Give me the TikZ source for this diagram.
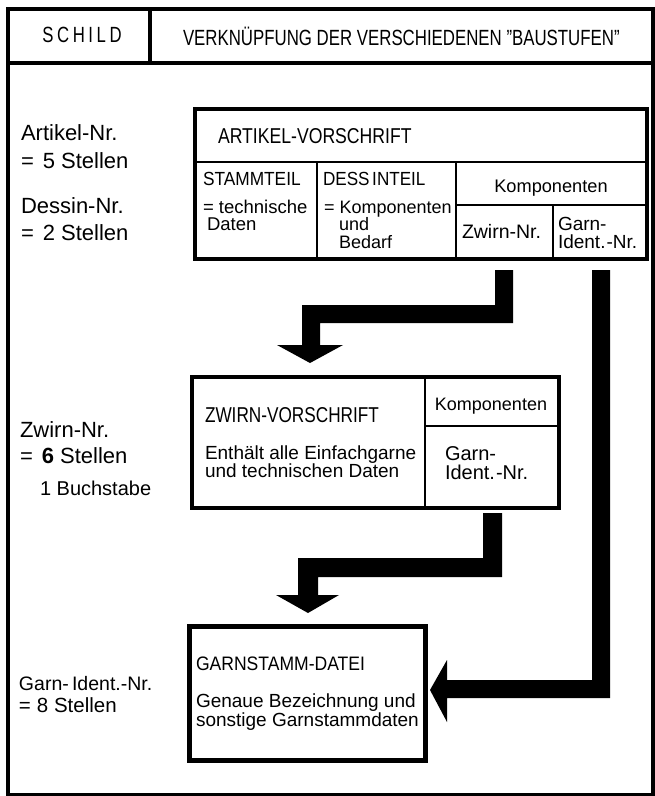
\documentclass[tikz,border=0pt]{standalone}
\usepackage{fontspec}
\setmainfont{Liberation Sans}
\usepackage{graphicx}
\newcommand{\fsz}[1]{\fontsize{#1}{#1}\selectfont}
\newcommand{\fszb}[2]{\fontsize{#1}{#2}\selectfont}
\newcommand{\sx}[2]{\scalebox{#1}[1]{#2}}
\newcommand{\lines}[1]{\begin{tabular}[t]{@{}l@{}}#1\end{tabular}}
\begin{document}
\begin{tikzpicture}[x=1pt,y=-1pt,
  t/.style={anchor=base west, inner sep=0pt, outer sep=0pt},
  tc/.style={anchor=base, inner sep=0pt, outer sep=0pt},
  frameline/.style={line width=3.5pt},
  boxstyle/.style={draw, line width=4pt, anchor=north west, inner sep=0pt, fill=none},
  divline/.style={line width=2.6pt},
  bigarrow/.style={fill=black, draw=none}]
\useasboundingbox (0,0) rectangle (655,796);

% outer frame and header
\draw[frameline] (8,9) rectangle (653,795);
\draw[frameline] (8,63) -- (653,63);
\draw[frameline] (150,9) -- (150,63);
\node[tc, font=\fsz{22}] (schild) at (82,42) {\sx{0.76}{S\kern4.7pt C\kern4.7pt H\kern4.7pt I\kern4.7pt L\kern4.7pt D}};
\node[t, font=\fsz{22}] (title) at (183,45) {\sx{0.765}{VERKNÜPFUNG DER VERSCHIEDENEN "BAUSTUFEN"}};

% left labels
\node[t, font=\fsz{22}] (la1) at (21,140) {Artikel-Nr.};
\node[t, font=\fsz{22}] (la2) at (21,168) {=\kern9pt 5 Stellen};
\node[t, font=\fsz{22}] (la3) at (21,213) {Dessin-Nr.};
\node[t, font=\fsz{22}] (la4) at (21,240) {=\kern9pt 2 Stellen};
\node[t, font=\fsz{22}] (lz1) at (20,437) {Zwirn-Nr.};
\node[t, font=\fsz{22}] (lz2) at (20,463) {=\kern9pt\textbf{6} Stellen};
\node[t, font=\fsz{20}] (lz3) at (40,495) {1 Buchstabe};
\node[t, font=\fsz{19.5}] (lg1) at (19,690) {Garn-\,Ident.-Nr.};
\node[t, font=\fsz{20.5}] (lg2) at (19,712) {=\kern6pt 8 Stellen};

% ARTIKEL-VORSCHRIFT box
\node[boxstyle, minimum width=452pt, minimum height=150pt] (artikel) at (193,107) {};
\draw[divline] (193,162) -- (645,162);
\draw[divline] (317,162) -- (317,257);
\draw[divline] (456,162) -- (456,257);
\draw[divline] (456,205) -- (645,205);
\draw[divline] (553,205) -- (553,257);
\node[t, font=\fsz{21.5}] (atitle) at (218,143) {\sx{0.82}{ARTIKEL-VORSCHRIFT}};
\node[t, font=\fsz{19}] (stamm) at (203,185) {\sx{0.91}{STAMMTEIL}};
\node[t, font=\fszb{18.5}{15}] (stamm2) at (203,213) {\lines{= technische\\\hspace*{4pt}Daten}};
\node[t, font=\fsz{19}] (dessin) at (323,185) {\sx{0.9}{DESS\kern3pt INTEIL}};
\node[t, font=\fszb{18}{16.5}] (dessin2) at (324,213) {\lines{= Komponenten\\\hspace*{15pt}und\\\hspace*{15pt}Bedarf}};
\node[tc, font=\fsz{18.2}] (akomp) at (551,192) {Komponenten};
\node[t, font=\fsz{19.5}] (azwirn) at (462,238) {Zwirn-Nr.};
\node[t, font=\fszb{19}{17}] (agarn1) at (558,230) {\lines{Garn-\\Ident.\kern1pt-Nr.}};

% ZWIRN-VORSCHRIFT box
\node[boxstyle, minimum width=367pt, minimum height=131pt] (zwirn) at (190,375) {};
\draw[divline] (425,375) -- (425,506);
\draw[divline] (425,426) -- (557,426);
\node[t, font=\fsz{21.5}] (ztitle) at (205,422) {\sx{0.8}{ZWIRN-VORSCHRIFT}};
\node[t, font=\fszb{19}{17}] (ztext1) at (205,459) {\lines{Enthält alle Einfachgarne\\und technischen Daten}};
\node[tc, font=\fsz{18}] (zkomp) at (491,410) {Komponenten};
\node[t, font=\fszb{20}{18}] (zgarn1) at (445,460) {\lines{Garn-\\Ident.\kern1pt-Nr.}};

% GARNSTAMM-DATEI box
\node[boxstyle, line width=4.5pt, minimum width=236pt, minimum height=134pt] (garn) at (187,624) {};
\node[t, font=\fsz{19.5}] (gtitle) at (196,670) {\sx{0.9}{GARNSTAMM-DATEI}};
\node[t, font=\fszb{19}{18}] (gtext1) at (196,707) {\lines{Genaue Bezeichnung und\\sonstige Garnstammdaten}};

% big arrows
\fill[bigarrow] (495,270) -- (513,270) -- (513,323) -- (320,323) -- (320,345)
  -- (343,345) -- (310,363) -- (277,345) -- (302,345) -- (302,305) -- (495,305) -- cycle;
\fill[bigarrow] (592,270) -- (610,270) -- (610,698) -- (447,698) -- (447,722)
  -- (430,690) -- (447,660) -- (447,680) -- (592,680) -- cycle;
\fill[bigarrow] (483,513) -- (502,513) -- (502,577) -- (318,577) -- (318,595)
  -- (339,595) -- (308,613) -- (276,595) -- (298,595) -- (298,558) -- (483,558) -- cycle;
\end{tikzpicture}
\end{document}
